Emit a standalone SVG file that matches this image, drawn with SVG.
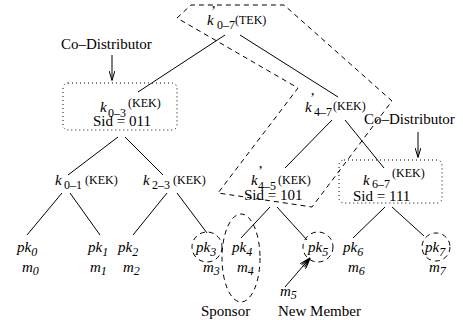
<svg xmlns="http://www.w3.org/2000/svg" width="463" height="320" viewBox="0 0 463 320">
  <defs>
    <style>
      text { font-family: "Liberation Serif", "Times New Roman", serif; fill: #000; }
      .it { font-style: italic; font-size: 15px; }
      .rm { font-size: 15px; }
      .sub { font-size: 12px; }
      .sup { font-size: 12px; }
      .edge { stroke: #000; stroke-width: 1; fill: none; }
      .dash { stroke: #000; stroke-width: 1; fill: none; stroke-dasharray: 5 4; }
      .dot { stroke: #000; stroke-width: 1; fill: none; stroke-dasharray: 1 3; }
    </style>
    <marker id="stick" viewBox="0 0 10 6" refX="9.5" refY="3" markerWidth="10" markerHeight="6" markerUnits="userSpaceOnUse" orient="auto">
      <path d="M0,0 L10,3 L0,6" fill="none" stroke="#000" stroke-width="1"/>
    </marker>
    <marker id="fan" viewBox="0 0 12 8" refX="11.5" refY="4" markerWidth="12" markerHeight="8" markerUnits="userSpaceOnUse" orient="auto">
      <path d="M0,0 L12,4 L0,8 M1,2 L12,4 L1,6 M0,4 L12,4" fill="none" stroke="#000" stroke-width="1"/>
    </marker>
  </defs>

  <!-- tree edges -->
  <g id="connectors">
    <line class="edge" x1="225" y1="35" x2="138" y2="92"/>
    <line class="edge" x1="240" y1="35" x2="338" y2="97"/>
    <line class="edge" x1="332" y1="120" x2="285" y2="168"/>
    <line class="edge" x1="345" y1="120" x2="384" y2="168"/>
    <line class="edge" x1="118" y1="137" x2="68" y2="175"/>
    <line class="edge" x1="125" y1="137" x2="163" y2="175"/>
    <line class="edge" x1="62" y1="193" x2="27" y2="235"/>
    <line class="edge" x1="70" y1="193" x2="100" y2="235"/>
    <line class="edge" x1="167" y1="193" x2="133" y2="235"/>
    <line class="edge" x1="177" y1="193" x2="207" y2="233"/>
    <line class="edge" x1="270" y1="207" x2="241" y2="238"/>
    <line class="edge" x1="277" y1="207" x2="307" y2="240"/>
    <line class="edge" x1="385" y1="207" x2="353" y2="238"/>
    <line class="edge" x1="392" y1="207" x2="424" y2="236"/>
    <!-- pointer arrows -->
    <line class="edge" x1="112" y1="55" x2="112" y2="80" marker-end="url(#stick)"/>
    <line class="edge" x1="418" y1="132" x2="418" y2="157" marker-end="url(#stick)"/>
    <line class="edge" x1="285" y1="287" x2="310" y2="258" marker-end="url(#fan)"/>
  </g>

  <!-- dashed outline of the refreshed key path -->
  <path id="key-path" class="dash" d="M177,18 L191,5 L284,5 L392,101 L312,207 L218,193 L298,88 Z"/>

  <g id="root">
    <text class="it" x="207" y="25">k</text>
    <text class="rm" x="211" y="16">’</text>
    <text class="sub" x="217" y="29">0–7</text>
    <text class="sup" x="235" y="24">(TEK)</text>
  </g>

  <g id="codist-left">
    <text class="rm" x="61" y="49">Co–Distributor</text>
  </g>

  <g id="k03">
    <rect class="dot" x="63" y="83" width="114" height="47" rx="5"/>
    <text class="it" x="100" y="112">k</text>
    <text class="sub" x="108" y="117">0–3</text>
    <text class="sup" x="128" y="107">(KEK)</text>
    <text class="rm" x="93" y="126">Sid = 011</text>
  </g>

  <g id="k47">
    <text class="it" x="305" y="112">k</text>
    <text class="rm" x="310" y="103">’</text>
    <text class="sub" x="314" y="116">4–7</text>
    <text class="sup" x="333" y="110">(KEK)</text>
  </g>

  <g id="codist-right">
    <text class="rm" x="364" y="124">Co–Distributor</text>
  </g>

  <g id="k01">
    <text class="it" x="55" y="185">k</text>
    <text class="sub" x="64" y="189">0–1</text>
    <text class="sup" x="85" y="184">(KEK)</text>
  </g>

  <g id="k23">
    <text class="it" x="143" y="185">k</text>
    <text class="sub" x="152" y="189">2–3</text>
    <text class="sup" x="173" y="184">(KEK)</text>
  </g>

  <g id="k45">
    <text class="it" x="251" y="185">k</text>
    <text class="rm" x="258" y="176">’</text>
    <text class="sub" x="258" y="190">4–5</text>
    <text class="sup" x="278" y="184">(KEK)</text>
    <text class="rm" x="244" y="200">Sid = 101</text>
  </g>

  <g id="k67">
    <rect class="dot" x="339" y="160" width="103" height="43" rx="5"/>
    <text class="it" x="363" y="185">k</text>
    <text class="sub" x="372" y="188">6–7</text>
    <text class="sup" x="392" y="177">(KEK)</text>
    <text class="rm" x="353" y="201">Sid = 111</text>
  </g>

  <g id="m0">
    <text class="it" x="17" y="252">pk<tspan class="sub" dy="4">0</tspan></text>
    <text class="it" x="22" y="272">m<tspan class="sub" dy="3">0</tspan></text>
  </g>
  <g id="m1">
    <text class="it" x="88" y="252">pk<tspan class="sub" dy="4">1</tspan></text>
    <text class="it" x="90" y="272">m<tspan class="sub" dy="3">1</tspan></text>
  </g>
  <g id="m2">
    <text class="it" x="118" y="252">pk<tspan class="sub" dy="4">2</tspan></text>
    <text class="it" x="123" y="272">m<tspan class="sub" dy="3">2</tspan></text>
  </g>
  <g id="m3">
    <circle class="dash" cx="207" cy="247" r="15"/>
    <text class="it" x="196" y="252">pk<tspan class="sub" dy="4">3</tspan></text>
    <text class="it" x="203" y="272">m<tspan class="sub" dy="3">3</tspan></text>
  </g>
  <g id="m4">
    <ellipse class="dash" cx="241" cy="258" rx="19" ry="44"/>
    <text class="it" x="232" y="252">pk<tspan class="sub" dy="4">4</tspan></text>
    <text class="it" x="237" y="272">m<tspan class="sub" dy="3">4</tspan></text>
    <text class="rm" x="201" y="316">Sponsor</text>
  </g>
  <g id="m5">
    <circle class="dash" cx="318" cy="247" r="15"/>
    <text class="it" x="308" y="252">pk<tspan class="sub" dy="4">5</tspan></text>
    <text class="it" x="280" y="296">m<tspan class="sub" dy="3">5</tspan></text>
    <text class="rm" x="278" y="316">New Member</text>
  </g>
  <g id="m6">
    <text class="it" x="343" y="252">pk<tspan class="sub" dy="4">6</tspan></text>
    <text class="it" x="348" y="272">m<tspan class="sub" dy="3">6</tspan></text>
  </g>
  <g id="m7">
    <circle class="dash" cx="436" cy="247" r="14"/>
    <text class="it" x="425" y="252">pk<tspan class="sub" dy="4">7</tspan></text>
    <text class="it" x="429" y="272">m<tspan class="sub" dy="3">7</tspan></text>
  </g>
</svg>
